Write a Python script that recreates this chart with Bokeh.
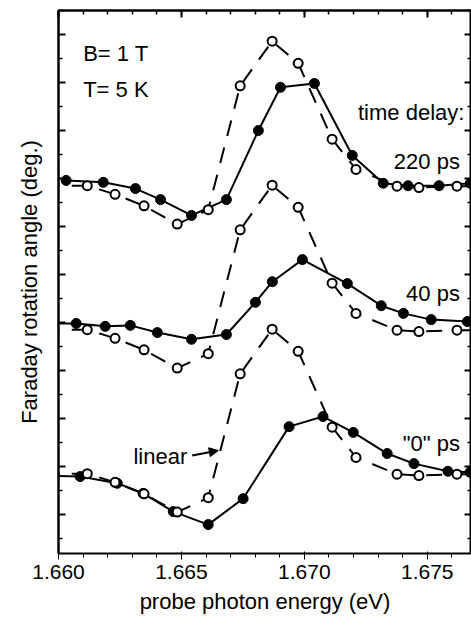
from bokeh.plotting import figure
from bokeh.models import (Range1d, LinearAxis, FixedTicker, PrintfTickFormatter,
                          CustomJSTickFormatter, Label, Arrow, NormalHead)
from bokeh.embed import file_html
from bokeh.resources import INLINE

# ---------------- data ----------------
# linear (reference) spectrum, open circles, dashed line; same curve drawn at 3 offsets
energy_linear = [1.6594, 1.66117, 1.66230, 1.66348, 1.66483, 1.66609, 1.66739, 1.66869,
                 1.66975, 1.67113, 1.67210, 1.67377, 1.67466, 1.67621, 1.6775]
rot_linear = [1.85, 1.85, 1.67, 1.43, 1.05, 1.35, 3.93, 4.86,
              4.40, 2.82, 2.19, 1.84, 1.81, 1.84, 1.84]
linear_offsets = [0.0, 3.0, 6.0]          # "0" ps, 40 ps, 220 ps

# pump-probe spectra, filled circles, solid line
energy_220 = [1.66031, 1.66182, 1.66313, 1.66415, 1.66541, 1.66683, 1.66813,
              1.66903, 1.67041, 1.67195, 1.67321, 1.67422, 1.67548, 1.67675]
rot_220 = [7.96, 7.92, 7.79, 7.56, 7.23, 7.56, 9.00,
           9.90, 9.98, 8.48, 7.90, 7.85, 7.85, 7.90]

energy_40 = [1.6594, 1.66072, 1.66190, 1.66292, 1.66402, 1.66541, 1.66683, 1.66801,
             1.66870, 1.66992, 1.67175, 1.67313, 1.67403, 1.67516, 1.67663]
rot_40 = [4.98, 4.98, 4.92, 4.94, 4.79, 4.65, 4.75, 5.42,
          5.85, 6.31, 5.81, 5.35, 5.19, 5.06, 5.02]

energy_0 = [1.6594, 1.66088, 1.66239, 1.66344, 1.66467, 1.66609, 1.66751, 1.66938,
            1.67076, 1.67199, 1.67337, 1.67446, 1.67584, 1.67674]
rot_0 = [1.81, 1.79, 1.65, 1.44, 1.06, 0.79, 1.33, 2.83,
         3.04, 2.71, 2.27, 2.06, 1.90, 1.88]

x_major = [1.660, 1.665, 1.670, 1.675]
x_minor = [1.660, 1.661, 1.662, 1.663, 1.664, 1.665, 1.666, 1.667, 1.668,
           1.669, 1.670, 1.671, 1.672, 1.673, 1.674, 1.675, 1.676]
y_major = [1, 2, 3, 4, 5, 6, 7, 8, 9, 10, 11]
y_minor = [0.5, 1.5, 2.5, 3.5, 4.5, 5.5, 6.5, 7.5, 8.5, 9.5, 10.5, 11.5]

delay_labels = ["220 ps", "40 ps", "\"0\" ps"]
delay_label_y = [8.354, 5.598, 2.486]

FONT = "Liberation Sans"

p = figure(width=471, height=620, output_backend="svg", toolbar_location=None,
           x_range=Range1d(1.660, 1.6768), y_range=Range1d(0.1875, 11.5),
           min_border_left=58, min_border_right=0, min_border_top=10,
           min_border_bottom=67)
p.grid.visible = False
p.outline_line_color = "black"
p.outline_line_width = 2
p.background_fill_color = "white"
p.border_fill_color = "white"

p.xaxis.axis_label = "probe photon energy (eV)"
p.yaxis.axis_label = "Faraday rotation angle (deg.)"

p.xaxis.ticker = FixedTicker(ticks=x_major, minor_ticks=x_minor)
p.yaxis.ticker = FixedTicker(ticks=y_major, minor_ticks=y_minor)
p.xaxis.formatter = PrintfTickFormatter(format="%.3f")

blank = CustomJSTickFormatter(code="return ''")
top_axis = LinearAxis(ticker=FixedTicker(ticks=x_major, minor_ticks=x_minor),
                      formatter=blank)
right_axis = LinearAxis(ticker=FixedTicker(ticks=y_major, minor_ticks=y_minor),
                        formatter=blank)
p.add_layout(top_axis, "above")
p.add_layout(right_axis, "right")
p.yaxis[0].formatter = blank

for ax in [p.xaxis[0], p.yaxis[0], top_axis, right_axis]:
    ax.major_tick_in = 7
    ax.major_tick_out = 0
    ax.minor_tick_in = 4
    ax.minor_tick_out = 0
    ax.axis_line_width = 2
    ax.major_tick_line_width = 2
    ax.minor_tick_line_width = 1.5
    ax.axis_line_color = "black"
    ax.major_tick_line_color = "black"
    ax.minor_tick_line_color = "black"

for ax in [p.yaxis[0], top_axis, right_axis]:
    ax.major_label_standoff = 0

p.xaxis.major_label_text_font = FONT
p.xaxis.major_label_text_font_size = "21px"
p.xaxis.major_label_text_color = "black"
p.xaxis.major_label_standoff = 5
p.xaxis.axis_label_text_font = FONT
p.xaxis.axis_label_text_font_size = "22px"
p.xaxis.axis_label_text_font_style = "normal"
p.xaxis.axis_label_text_color = "black"
p.xaxis.axis_label_standoff = 7

p.yaxis.axis_label_text_font = FONT
p.yaxis.axis_label_text_font_size = "22px"
p.yaxis.axis_label_text_font_style = "normal"
p.yaxis.axis_label_text_color = "black"
p.yaxis.axis_label_standoff = 17

# pump-probe curves (solid + filled)
for ex, ry in [(energy_220, rot_220), (energy_40, rot_40), (energy_0, rot_0)]:
    p.line(ex, ry, line_color="black", line_width=2)
    p.scatter(ex, ry, marker="circle", size=10, fill_color="black", line_color="black")

# linear curves (dashed + open)
for off in linear_offsets:
    ys = [v + off for v in rot_linear]
    p.line(energy_linear, ys, line_color="black", line_width=2, line_dash="16 12")
    p.scatter(energy_linear, ys, marker="circle", size=9, fill_color="white",
              line_color="black", line_width=2)

def add_label(x, y, text, align="left"):
    p.add_layout(Label(x=x, y=y, text=text, text_font=FONT, text_font_size="22px",
                       text_color="black", text_align=align, text_baseline="alphabetic"))

add_label(1.661004, 10.60, "B= 1 T")
add_label(1.661004, 9.85, "T= 5 K")
add_label(1.672183, 9.375, "time delay:")
for t, yy in zip(delay_labels, delay_label_y):
    add_label(1.676329, yy, t, align="right")
add_label(1.663049, 2.208, "linear")

p.add_layout(Arrow(x_start=1.665439, y_start=2.229, x_end=1.666500, y_end=2.333,
                   line_width=2, line_color="black",
                   end=NormalHead(size=9, fill_color="black", line_color="black")))

open("out.html", "w").write(file_html(p, INLINE))
